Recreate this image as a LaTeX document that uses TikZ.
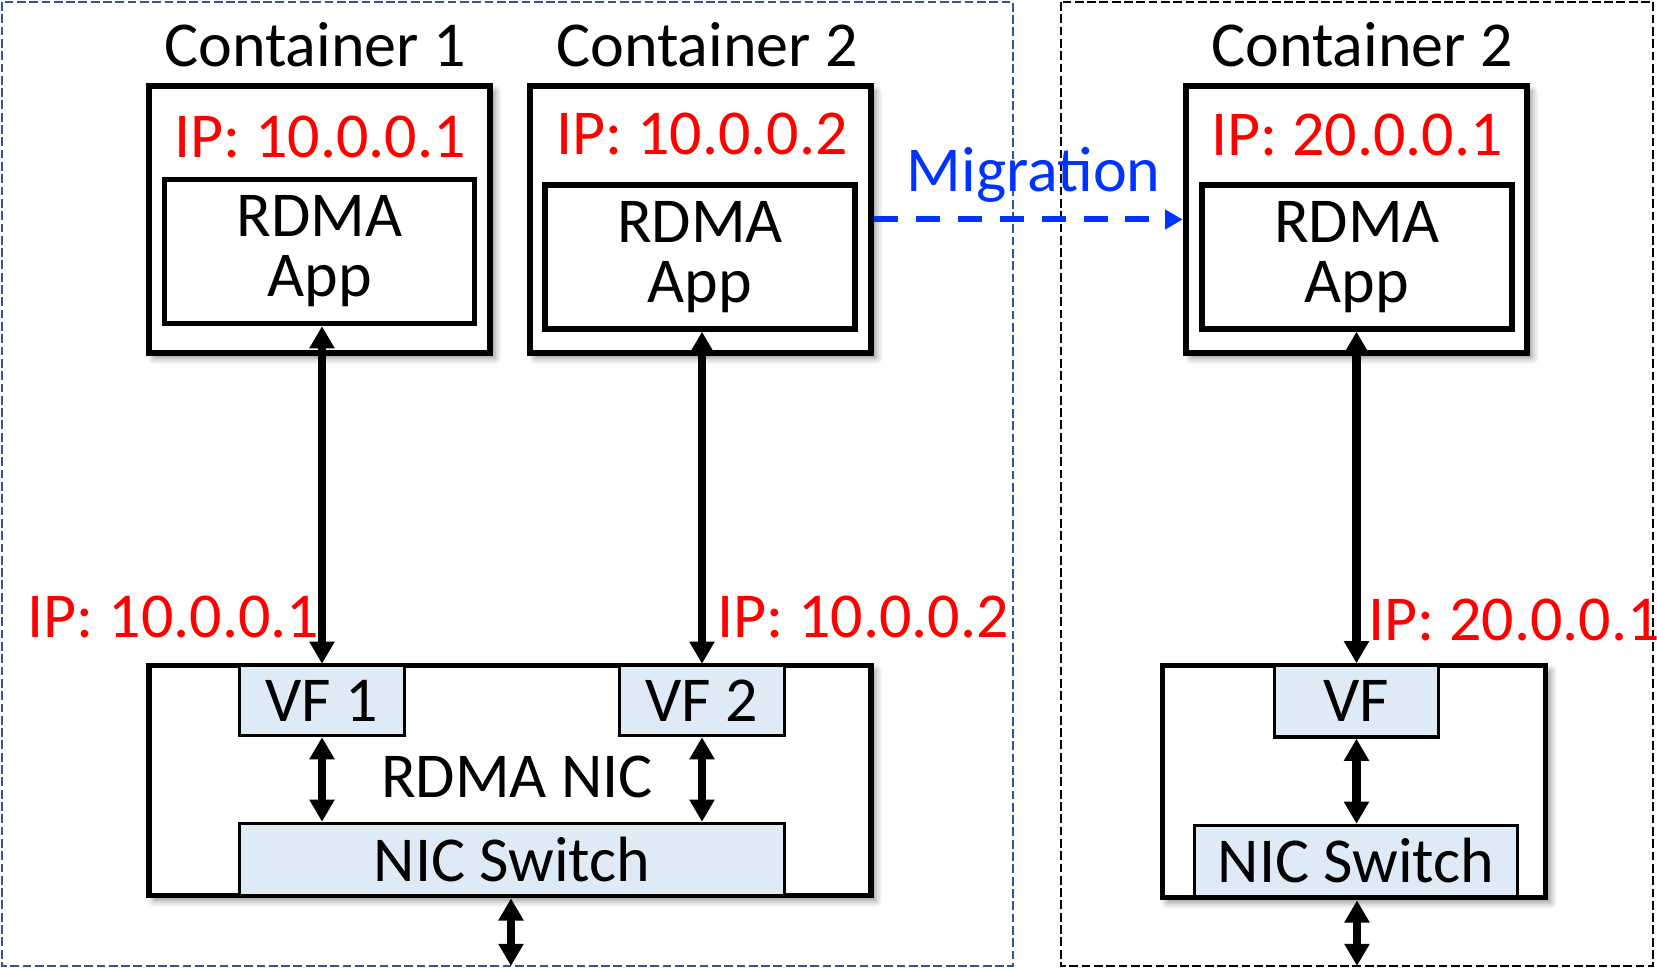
\documentclass[tikz,border=0pt]{standalone}
\usepackage{fontspec}
\setmainfont{Carlito}
\usetikzlibrary{arrows.meta,shadows.blur}

\definecolor{vfblue}{RGB}{222,235,247}
\definecolor{hostblue}{RGB}{47,85,151}
\definecolor{migblue}{RGB}{0,51,255}

\begin{document}
\begin{tikzpicture}[x=0.01cm, y=-0.01cm, font=\fontsize{18.2}{17}\selectfont,
    shadowed/.style={blur shadow={shadow xshift=0.05cm, shadow yshift=-0.05cm, shadow opacity=45}},
    cbox/.style={draw, line width=1.85pt, fill=white, inner sep=0, minimum width=3.41cm, minimum height=2.665cm, shadowed},
    appbox/.style={draw, line width=1.5pt, align=center, inner sep=0, minimum width=3.1cm, minimum height=1.44cm},
    nicbox/.style={draw, line width=1.6pt, fill=white, inner sep=0, shadowed},
    vfbox/.style={draw, line width=0.95pt, fill=vfblue, inner sep=0},
    ip/.style={text=red, anchor=base, inner sep=0},
    link/.style={{Triangle[length=6.3pt,width=6.8pt]}-{Triangle[length=6.3pt,width=6.8pt]}, line width=2.3pt},
    mig/.style={-{Triangle[length=5pt,width=5.4pt]}, migblue, line width=1.7pt, dash pattern=on 6.8pt off 5.1pt},
    hostline/.style={line width=0.55pt, dash pattern=on 2.5pt off 1pt}]

    \useasboundingbox (0,0) rectangle (1657,968);

    \draw[hostline, hostblue] (2,2) rectangle (1013,966);
    \draw[hostline] (1061,2) rectangle (1653,966);

    \node[cbox] (cont1) at (319.5,219.5) {};
    \node[cbox] (cont2) at (700.5,219.5) {};
    \node[cbox] (cont3) at (1356.5,219.5) {};
    \node[anchor=base, inner sep=0] (name1) at (315,67) {Container 1};
    \node[anchor=base, inner sep=0] (name2) at (707,67) {Container 2};
    \node[anchor=base, inner sep=0] (name3) at (1362,67) {Container 2};
    \node[ip] (ip1) at (320,158) {IP: 10.0.0.1};
    \node[ip] (ip2) at (702,155) {IP: 10.0.0.2};
    \node[ip] (ip3) at (1357,156) {IP: 20.0.0.1};
    \node[appbox] (app1) at (319.5,251.5) {RDMA\\App};
    \node[appbox] (app2) at (700,257) {RDMA\\App};
    \node[appbox] (app3) at (1357,257) {RDMA\\App};

    \node[nicbox, minimum width=7.21cm, minimum height=2.3cm] (nic1) at (510,780.5) {};
    \node[nicbox, minimum width=3.83cm, minimum height=2.32cm] (nic3) at (1354,781.5) {};
    \node[vfbox, minimum width=1.65cm, minimum height=0.7cm] (vf1) at (322,700.5) {VF 1};
    \node[vfbox, minimum width=1.65cm, minimum height=0.7cm] (vf2) at (702,700.5) {VF 2};
    \node[vfbox, minimum width=5.45cm, minimum height=0.72cm] (sw1) at (512,859.5) {NIC Switch};
    \node[vfbox, minimum width=1.64cm, minimum height=0.72cm] (vf3) at (1356.5,701) {VF};
    \node[vfbox, minimum width=3.23cm, minimum height=0.71cm] (sw3) at (1356,861) {NIC Switch};
    \node[anchor=base, inner sep=0] (nicname) at (517,798) {RDMA NIC};
    \node[ip] (vip1) at (173.5,638) {IP: 10.0.0.1};
    \node[ip] (vip2) at (863,638) {IP: 10.0.0.2};
    \node[ip] (vip3) at (1514,641) {IP: 20.0.0.1};

    \coordinate (out1) at (511,966);
    \coordinate (out3) at (1357,966);

    \draw[link] (app1.south -| vf1) -- (vf1.north);
    \draw[link] (vf1.south) -- (vf1.south |- sw1.north);
    \draw[link] (app2.south -| vf2) -- (vf2.north);
    \draw[link] (vf2.south) -- (vf2.south |- sw1.north);
    \draw[link] (nic1.south -| out1) -- (out1);

    \draw[link] (app3.south -| vf3) -- (vf3.north);
    \draw[link] (vf3.south) -- (vf3.south |- sw3.north);
    \draw[link] (nic3.south -| out3) -- (out3);

    \draw[mig] (cont2.east) -- (cont3.west) node[midway, above=4pt, inner sep=0, xshift=0.05cm, text=migblue] (migtext) {Migration};
\end{tikzpicture}
\end{document}
